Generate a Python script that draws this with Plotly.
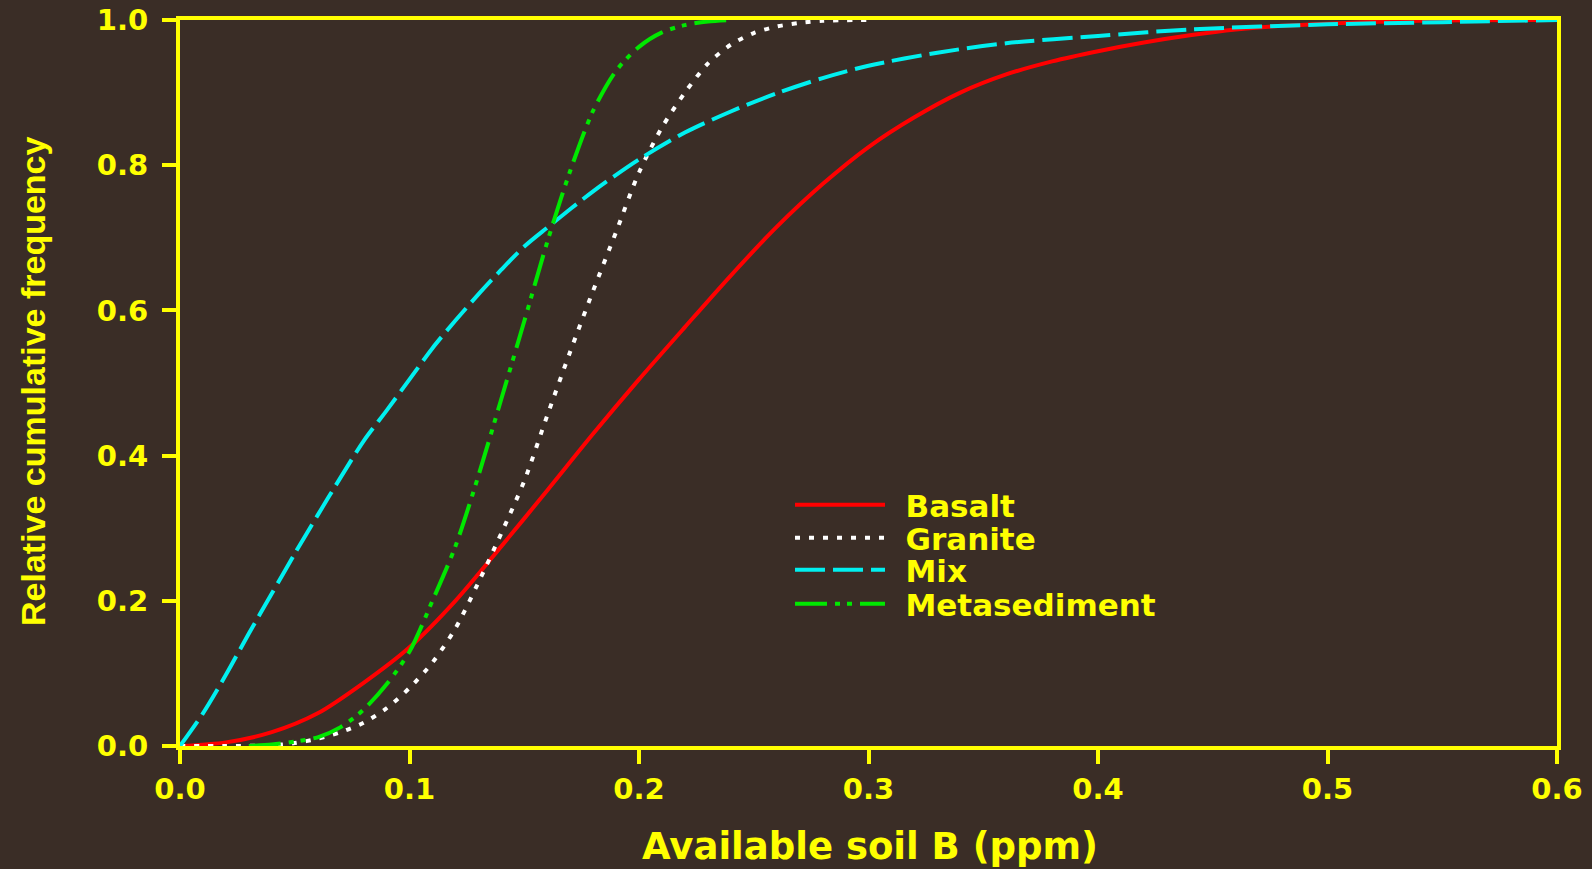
import plotly.graph_objects as go

# ---- data ----
basalt_x = [0.00, 0.02, 0.04, 0.06, 0.08, 0.10, 0.12, 0.14, 0.16, 0.18, 0.20, 0.22, 0.24, 0.26,
            0.28, 0.30, 0.32, 0.34, 0.36, 0.38, 0.40, 0.42, 0.44, 0.46, 0.48, 0.50, 0.54, 0.60]
basalt_y = [0.000, 0.005, 0.019, 0.045, 0.087, 0.136, 0.200, 0.275, 0.352, 0.430, 0.505, 0.577,
            0.648, 0.715, 0.774, 0.825, 0.866, 0.900, 0.925, 0.943, 0.957, 0.969, 0.979, 0.987,
            0.992, 0.995, 0.999, 1.0]

granite_x = [0.00, 0.02, 0.04, 0.05, 0.06, 0.07, 0.08, 0.09, 0.10, 0.11, 0.12, 0.13, 0.14, 0.15,
             0.16, 0.17, 0.18, 0.19, 0.20, 0.21, 0.22, 0.23, 0.24, 0.25, 0.26, 0.27, 0.28, 0.30]
granite_y = [0.0, 0.0, 0.001, 0.004, 0.010, 0.019, 0.032, 0.052, 0.080, 0.115, 0.162, 0.225,
             0.293, 0.365, 0.455, 0.543, 0.627, 0.708, 0.790, 0.852, 0.900, 0.940, 0.966, 0.982,
             0.991, 0.996, 0.999, 1.0]

mix_x = [0.00, 0.01, 0.02, 0.03, 0.04, 0.05, 0.06, 0.07, 0.08, 0.09, 0.10, 0.11, 0.12, 0.13,
         0.14, 0.15, 0.16, 0.18, 0.20, 0.22, 0.24, 0.26, 0.28, 0.30, 0.33, 0.36, 0.40, 0.44,
         0.50, 0.55, 0.60]
mix_y = [0.0, 0.045, 0.098, 0.155, 0.210, 0.265, 0.318, 0.370, 0.420, 0.462, 0.505, 0.548,
         0.586, 0.622, 0.656, 0.688, 0.714, 0.764, 0.808, 0.845, 0.874, 0.899, 0.920, 0.937,
         0.955, 0.968, 0.978, 0.987, 0.994, 0.997, 1.0]

meta_x = [0.03, 0.04, 0.05, 0.06, 0.07, 0.08, 0.09, 0.10, 0.11, 0.12, 0.13, 0.14, 0.15, 0.16,
          0.17, 0.18, 0.19, 0.20, 0.21, 0.22, 0.23, 0.24]
meta_y = [0.0, 0.002, 0.006, 0.012, 0.026, 0.050, 0.085, 0.130, 0.200, 0.275, 0.372, 0.478,
          0.585, 0.694, 0.792, 0.875, 0.930, 0.963, 0.983, 0.993, 0.998, 1.0]

series_names = ["Basalt", "Granite", "Mix", "Metasediment"]
x_ticks = [0.0, 0.1, 0.2, 0.3, 0.4, 0.5, 0.6]
y_ticks = [0.0, 0.2, 0.4, 0.6, 0.8, 1.0]

BG = "#3a2d26"
YEL = "#ffff00"

styles = [
    dict(color="#ff0000", width=4, dash="solid"),
    dict(color="#ffffff", width=4, dash="5px,9px"),
    dict(color="#00f0f0", width=4, dash="30px,8px"),
    dict(color="#00e800", width=4, dash="32px,8px,5px,7px,5px,8px"),
]
data = [(basalt_x, basalt_y), (granite_x, granite_y), (mix_x, mix_y), (meta_x, meta_y)]
legend_keys = ["legend", "legend2", "legend3", "legend4"]

fig = go.Figure()
for (xs, ys), name, st, lk in zip(data, series_names, styles, legend_keys):
    fig.add_trace(go.Scatter(x=xs, y=ys, mode="lines", name="\u2002" + name,
                             line=dict(color=st["color"], width=st["width"], dash=st["dash"],
                                       shape="spline", smoothing=0.8),
                             legend=lk))

L, R, T, B = 180, 35, 20, 123
W, H = 1592, 869
pw, ph = W - L - R, H - T - B

def px2paper_x(px):
    return (px - L) / pw

def px2paper_y(py):
    return (H - B - py) / ph

row_px = [505, 538, 570, 604]
legend_font = dict(family="DejaVu Sans", size=31, color=YEL, weight="bold")
leg_layout = {}
for lk, rp in zip(legend_keys, row_px):
    leg_layout[lk] = dict(x=px2paper_x(790), y=px2paper_y(rp), xanchor="left", yanchor="middle",
                          bgcolor="rgba(0,0,0,0)", borderwidth=0, font=legend_font,
                          itemwidth=90)

tick_font = dict(family="DejaVu Sans", size=29, color=YEL, weight="bold")

fig.update_layout(
    width=W, height=H,
    margin=dict(l=L, r=R, t=T, b=B, autoexpand=False),
    paper_bgcolor=BG, plot_bgcolor=BG,
    showlegend=True,
    **leg_layout,
    xaxis=dict(range=[0, 0.6], tickvals=x_ticks, ticktext=[f"{v:.1f}" for v in x_ticks],
               showgrid=False, zeroline=False, showline=True, linecolor=YEL, linewidth=4,
               mirror=True, ticks="outside", ticklen=14, tickwidth=4, tickcolor=YEL,
               tickfont=tick_font, layer="below traces", ticklabelstandoff=0,
               automargin=False),
    yaxis=dict(range=[0, 1.0], tickvals=y_ticks, ticktext=[f"{v:.1f}" for v in y_ticks],
               showgrid=False, zeroline=False, showline=True, linecolor=YEL, linewidth=4,
               mirror=True, ticks="outside", ticklen=14, tickwidth=4, tickcolor=YEL,
               tickfont=tick_font, layer="below traces", ticklabelstandoff=8,
               automargin=False),
    annotations=[
        dict(text="Available soil B (ppm)", xref="paper", yref="paper",
             x=px2paper_x(870), y=px2paper_y(846), xanchor="center", yanchor="middle",
             showarrow=False,
             font=dict(family="DejaVu Sans", size=37, color=YEL, weight="bold")),
        dict(text="Relative cumulative frequency", xref="paper", yref="paper",
             x=px2paper_x(33), y=px2paper_y(381), xanchor="center", yanchor="middle",
             textangle=-90, showarrow=False,
             font=dict(family="Liberation Sans", size=34, color=YEL, weight="bold")),
    ],
)

fig.write_html("out.html", config={"displayModeBar": False},
               post_script="document.body.style.margin='0';")
